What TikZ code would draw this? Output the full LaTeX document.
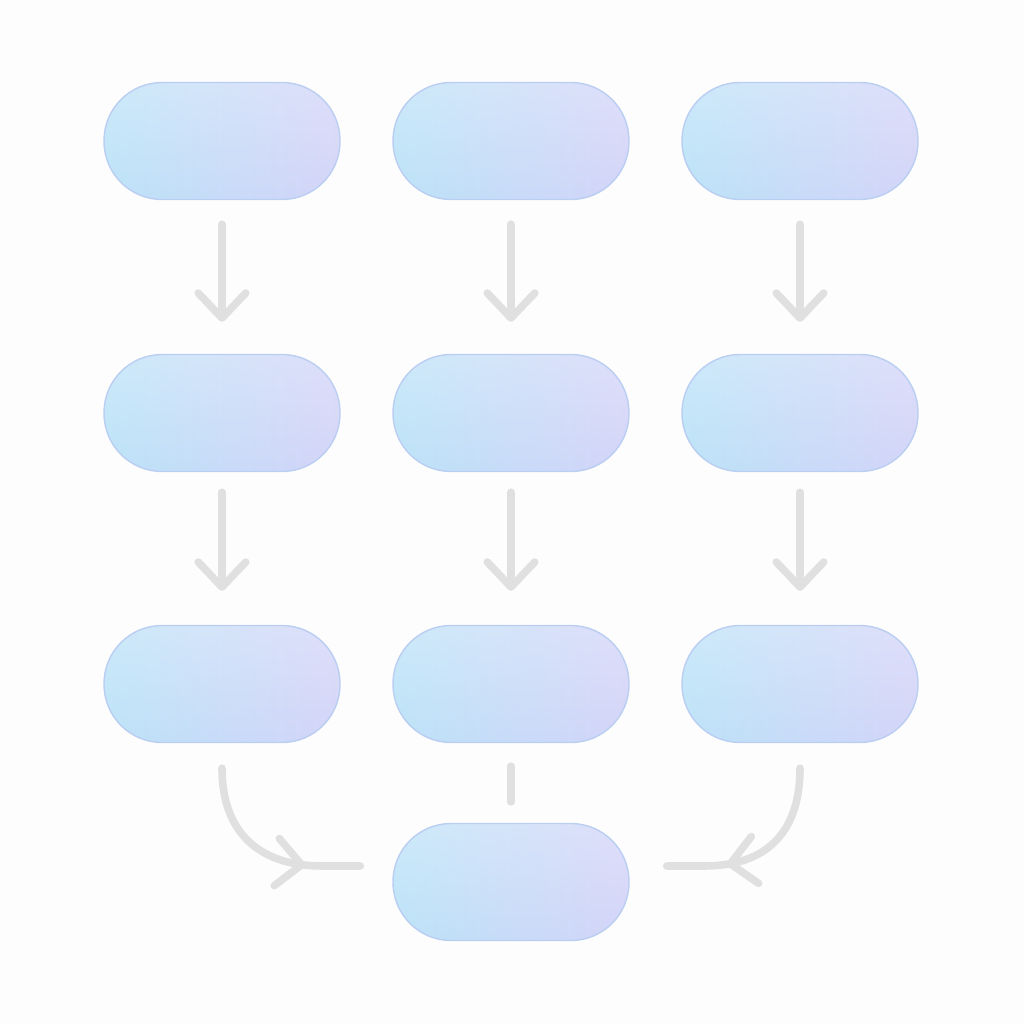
\documentclass[tikz,border=0pt]{standalone}
\usetikzlibrary{arrows.meta,decorations.markings,fadings}
\definecolor{bgc}{RGB}{254,253,253}
\definecolor{pillL}{RGB}{188,227,248}
\definecolor{pillR}{RGB}{212,212,248}
\definecolor{pillE}{RGB}{186,206,242}
\definecolor{arr}{RGB}{224,224,224}
\begin{document}
\begin{tikzpicture}[x=0.02cm,y=-0.02cm,
  pill/.style={draw=pillE, line width=0.8pt, left color=pillL, right color=pillR,
    rounded corners=1.16cm, minimum width=4.72cm, minimum height=2.34cm, inner sep=0pt,
    path picture={\fill[white, fill opacity=0.25, path fading=south]
      (path picture bounding box.north west) rectangle (path picture bounding box.south east);}},
  conn/.style={draw=arr, line width=4.3pt, line cap=round, line join=round},
  tipV/.style={-{Straight Barb[length=0.5cm,width=0.95cm,round]}},
  midV/.style={postaction={decorate}, decoration={markings,
    mark=at position #1 with {\arrow[arr, line width=4.3pt]{Straight Barb[length=0.5cm,width=0.95cm,round]}}}},
]
\fill[bgc] (0,0) rectangle (1024,1024);
\useasboundingbox (0,0) rectangle (1024,1024);

\node[pill] (a1) at (222,141) {};
\node[pill] (a2) at (511,141) {};
\node[pill] (a3) at (800,141) {};
\node[pill] (b1) at (222,413) {};
\node[pill] (b2) at (511,413) {};
\node[pill] (b3) at (800,413) {};
\node[pill] (c1) at (222,684) {};
\node[pill] (c2) at (511,684) {};
\node[pill] (c3) at (800,684) {};
\node[pill] (d) at (511,882) {};

\foreach \c in {1,2,3}{
  \draw[conn,tipV, shorten <=0.48cm, shorten >=0.64cm] (a\c.south) -- (b\c.north);
  \draw[conn,tipV, shorten <=0.40cm, shorten >=0.68cm] (b\c.south) -- (c\c.north);
}
\draw[conn, shorten <=0.46cm, shorten >=0.42cm] (c2.south) -- (d.north);

\draw[conn, midV=-1.1cm] ([yshift=-0.5cm]c1.south) .. controls (222,835) and (262,866) .. (322,866)
  -- ([xshift=-0.64cm,yshift=0.32cm]d.west);
\draw[conn, midV=-1.2cm] ([yshift=-0.5cm]c3.south) .. controls (800,835) and (764,866) .. (704,866)
  -- ([xshift=0.74cm,yshift=0.32cm]d.east);
\end{tikzpicture}
\end{document}
